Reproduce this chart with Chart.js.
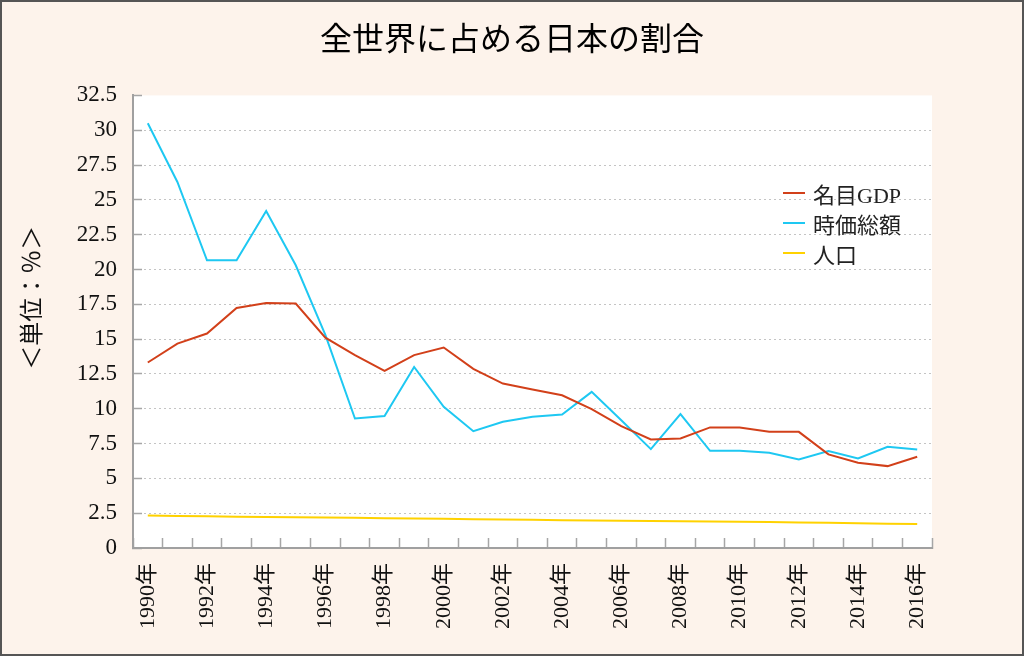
<!DOCTYPE html>
<html lang="ja">
<head>
  <meta charset="UTF-8" />
  <title>全世界に占める日本の割合</title>
  <script src="https://cdn.jsdelivr.net/npm/chart.js"></script>
  <style>
    *{margin:0;padding:0;box-sizing:border-box}
    body{background:#fdf3eb;width:1024px;height:656px;overflow:hidden}
    .frame{position:relative;width:1024px;height:656px;border:2px solid #555;background:#fdf3eb}
    #chart{display:block}
    .legend{position:absolute;left:781px;top:176px;font-family:'Liberation Serif','Noto Sans CJK JP',serif;font-size:22px;color:#222}
    .legend div{display:flex;align-items:center;height:30px}
    .legend i{display:inline-block;width:22px;height:2px;margin-right:8px}
  </style>
</head>
<body>
  <div class="frame">
    <canvas id="chart" width="1020" height="652"></canvas>
    <div class="legend" id="legend"></div>
  </div>

  <script>
    // 年（横軸）
    const years = ['1990年','1991年','1992年','1993年','1994年','1995年','1996年','1997年','1998年',
      '1999年','2000年','2001年','2002年','2003年','2004年','2005年','2006年','2007年','2008年',
      '2009年','2010年','2011年','2012年','2013年','2014年','2015年','2016年'];

    // 名目GDP（%）
    const gdpShare = [13.32, 14.68, 15.4, 17.24, 17.6, 17.55, 15.1, 13.85, 12.72, 13.85, 14.4, 12.86, 11.81,
      11.38, 10.97, 9.97, 8.75, 7.8, 7.87, 8.66, 8.66, 8.34, 8.34, 6.72, 6.12, 5.88, 6.55];

    // 時価総額（%）
    const mcapShare = [30.5, 26.28, 20.66, 20.66, 24.2, 20.3, 15.3, 9.3, 9.47, 13.0, 10.14, 8.39, 9.06,
      9.42, 9.59, 11.21, 9.18, 7.1, 9.61, 6.98, 6.98, 6.84, 6.36, 6.96, 6.43, 7.27, 7.08];

    // 人口（%）
    const popShare = [2.33, 2.30, 2.28, 2.25, 2.23, 2.21, 2.19, 2.17, 2.14, 2.12, 2.10, 2.07, 2.05,
      2.03, 2.00, 1.98, 1.96, 1.94, 1.92, 1.90, 1.88, 1.86, 1.84, 1.81, 1.78, 1.75, 1.72];

    const seriesNames = ['名目GDP', '時価総額', '人口'];
    const seriesColors = ['#d2401a', '#1ec8f2', '#ffd200'];
    const yMax = 32.5, yStep = 2.5;

    Chart.defaults.font.family = "'Liberation Serif', 'Noto Sans CJK JP', serif";
    Chart.defaults.color = '#111';

    // プロットエリアを白で塗る
    const plotBg = {
      id: 'plotBg',
      beforeDraw(chart) {
        const { ctx, chartArea: a } = chart;
        ctx.save();
        ctx.fillStyle = '#fff';
        ctx.fillRect(a.left, a.top, a.right - a.left, a.bottom - a.top);
        ctx.restore();
      }
    };

    const series = [gdpShare, mcapShare, popShare];

    new Chart(document.getElementById('chart'), {
      type: 'line',
      data: {
        labels: years,
        datasets: series.map((d, i) => ({
          label: seriesNames[i],
          data: d,
          borderColor: seriesColors[i],
          backgroundColor: seriesColors[i],
          borderWidth: 2,
          pointRadius: 0,
          tension: 0,
          fill: false
        }))
      },
      options: {
        responsive: false,
        animation: false,
        layout: { padding: 0 },
        plugins: {
          legend: { display: false },
          tooltip: { enabled: false },
          title: {
            display: true,
            text: '全世界に占める日本の割合',
            color: '#000',
            font: { family: "'Noto Sans CJK JP'", size: 32, weight: 'normal' },
            padding: { top: 17, bottom: 38 }
          }
        },
        scales: {
          x: {
            offset: true,
            grid: { offset: true, drawOnChartArea: false, tickLength: -10, tickColor: '#a6a6a6', tickWidth: 1.5 },
            border: { color: '#a0a0a0', width: 2 },
            ticks: {
              autoSkip: false, maxRotation: 90, minRotation: 90, padding: 25,
              font: { size: 22 },
              callback: (v, i) => (i % 2 === 0 ? years[i] : '')
            },
            afterFit: s => { s.height = 106; }
          },
          y: {
            min: 0, max: yMax,
            ticks: { stepSize: yStep, padding: 25, font: { size: 23 } },
            grid: {
              color: c => (c.tick && c.tick.value === yMax ? 'transparent' : '#c4c4c4'),
              lineWidth: 1, tickLength: -9, tickColor: '#a6a6a6', tickWidth: 1.5
            },
            border: { color: '#a0a0a0', width: 2, dash: [2, 3] },
            title: {
              display: true,
              text: '　　＜単位：％＞',
              font: { family: "'Noto Sans CJK JP'", size: 24 },
              padding: { top: 14, bottom: 0 }
            },
            afterFit: s => { s.width = 131; }
          },
          // 右側の余白（グラフ枠の右端をそろえるための空の軸）
          yRight: {
            position: 'right',
            min: 0, max: yMax,
            grid: { display: false },
            border: { display: false },
            ticks: { display: false },
            afterFit: s => { s.width = 90; }
          }
        }
      },
      plugins: [plotBg]
    });

    // 凡例（プロットエリア内の右上）
    const legend = document.getElementById('legend');
    seriesNames.forEach((name, i) => {
      const row = document.createElement('div');
      row.innerHTML = `<i style="background:${seriesColors[i]}"></i><span>${name}</span>`;
      legend.appendChild(row);
    });
  </script>
</body>
</html>
